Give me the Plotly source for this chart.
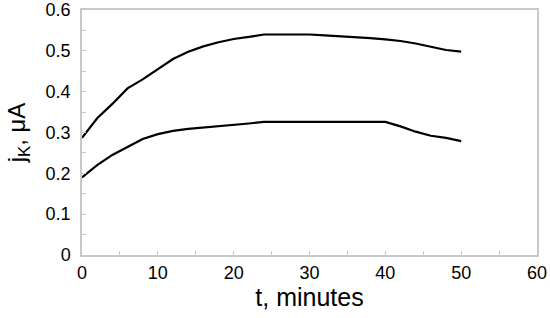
import plotly.graph_objects as go

# tempo (minutos) e correntes j_K (µA)
t_min = [0, 2, 4, 6, 8, 10, 12, 14, 16, 18, 20, 22, 24, 26, 28, 30, 32, 34, 36, 38, 40, 42, 44, 46, 48, 50]
j_sup = [0.287, 0.335, 0.370, 0.408, 0.430, 0.456, 0.480, 0.498, 0.511, 0.521, 0.529, 0.534, 0.540, 0.540,
         0.540, 0.540, 0.538, 0.536, 0.534, 0.531, 0.528, 0.524, 0.518, 0.510, 0.502, 0.498]
j_inf = [0.190, 0.220, 0.245, 0.265, 0.284, 0.296, 0.304, 0.309, 0.312, 0.315, 0.318, 0.322, 0.326, 0.326,
         0.326, 0.326, 0.326, 0.326, 0.326, 0.326, 0.326, 0.315, 0.302, 0.292, 0.287, 0.279]

fig = go.Figure()
for serie in (j_sup, j_inf):
    fig.add_trace(go.Scatter(x=t_min, y=serie, mode='lines',
                             line=dict(color='black', width=2.2), showlegend=False))

eixo = dict(showgrid=False, zeroline=False, showline=True, linecolor='#c8c8c8', linewidth=1.5,
            mirror=True, ticks='inside', tickcolor='#c8c8c8', ticklen=4, automargin=False,
            tickfont=dict(size=18, color='black'))

fig.update_xaxes(eixo, range=[0, 60], dtick=10, ticklabelstandoff=1,
                 minor=dict(dtick=5, ticks='inside', ticklen=4, tickcolor='#c8c8c8'),
                 title=dict(text='t, minutes', font=dict(size=25, color='black'), standoff=5))
fig.update_yaxes(eixo, range=[0, 0.6], dtick=0.1, tickformat='.1~f', ticklabelstandoff=6,
                 minor=dict(dtick=0.05, ticks='inside', ticklen=4, tickcolor='#c8c8c8'),
                 title=dict(text='j<sub>K</sub>, μA', font=dict(size=24, color='black'), standoff=13))

fig.update_layout(width=550, height=318, margin=dict(l=82, r=13, t=10, b=63),
                  plot_bgcolor='white', paper_bgcolor='white',
                  font=dict(family='Liberation Sans, Arial, sans-serif', color='black'))

# tira a margem padrão do body para a figura ocupar a janela inteira
fig.write_html("out.html", config={'displayModeBar': False},
               post_script="document.body.style.margin='0';")
